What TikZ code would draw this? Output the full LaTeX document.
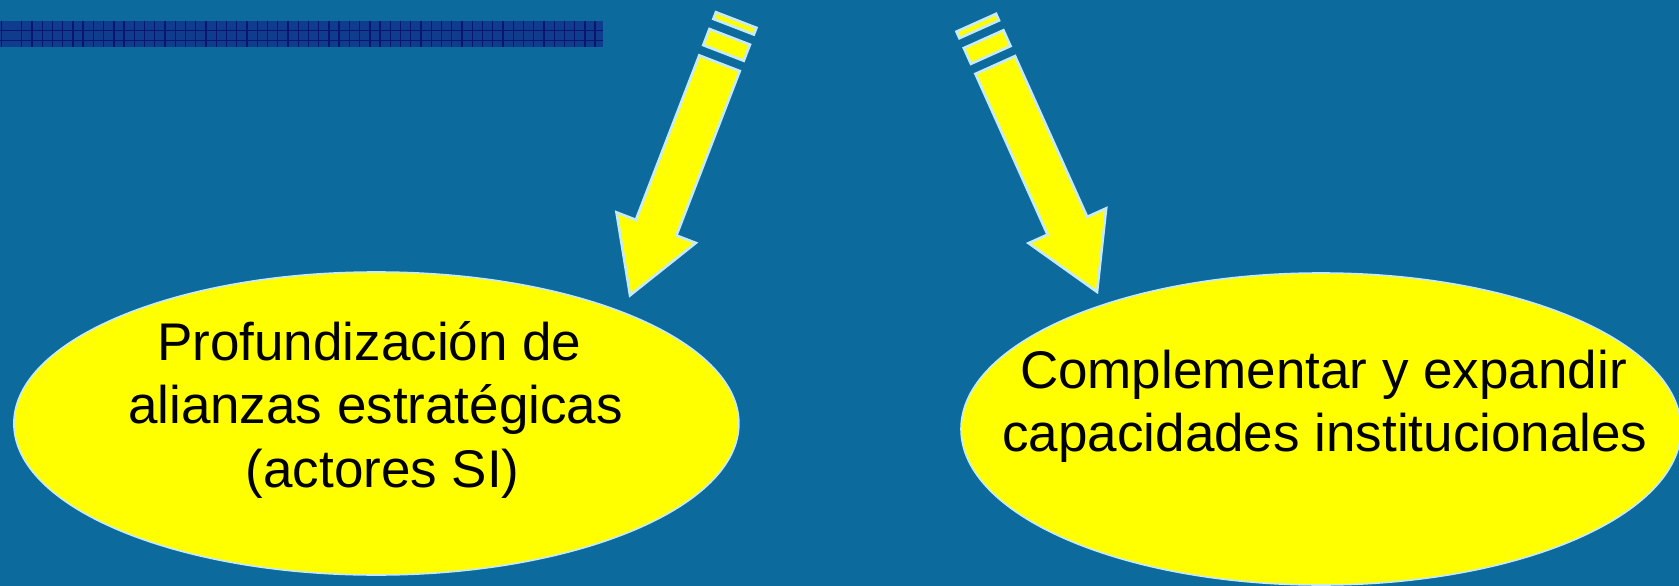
\documentclass[tikz,border=0pt]{standalone}
\usepackage{fontspec}
\setmainfont{Liberation Sans}
\usetikzlibrary{calc,shapes.geometric}
\definecolor{bg}{RGB}{12,106,156}
\definecolor{yel}{RGB}{255,255,0}
\definecolor{edgeblue}{RGB}{196,234,252}
\definecolor{barfill}{RGB}{16,60,142}
\definecolor{barline}{RGB}{8,22,112}
\newcommand{\stripedarrow}[3]{%
  \filldraw[arrowsty] ($(#1)-21.7*(#2)-45*(#3)$) -- ($(#1)+21.7*(#2)-45*(#3)$) -- ($(#1)+21.7*(#2)-37.8*(#3)$) -- ($(#1)-21.7*(#2)-37.8*(#3)$) -- cycle;
  \filldraw[arrowsty] ($(#1)-21.7*(#2)-27*(#3)$) -- ($(#1)+21.7*(#2)-27*(#3)$) -- ($(#1)+21.7*(#2)-9.7*(#3)$) -- ($(#1)-21.7*(#2)-9.7*(#3)$) -- cycle;
  \filldraw[arrowsty] ($(#1)-21.7*(#2)+1.3*(#3)$) -- ($(#1)+21.7*(#2)+1.3*(#3)$) -- ($(#1)+21.7*(#2)+177.5*(#3)$) -- ($(#1)+42.5*(#2)+177.5*(#3)$) -- ($(#1)+250*(#3)$) -- ($(#1)-42.5*(#2)+177.5*(#3)$) -- ($(#1)-21.7*(#2)+177.5*(#3)$) -- cycle;
}
\begin{document}
\begin{tikzpicture}[x=1pt,y=-1pt,
  arrowsty/.style={fill=yel, draw=edgeblue, line width=2.6pt, line join=miter},
  bubble/.style={ellipse, fill=yel, draw=edgeblue, line width=1.6pt, inner sep=0pt},
  txt/.style={font=\fontsize{53}{63}\selectfont, text=black, inner sep=0pt, anchor=base},
  gridline/.style={draw=barline, line width=1.3pt}]
\fill[bg] (0,0) rectangle (1679,586);
\useasboundingbox (0,0) rectangle (1679,586);
% striped bar
\fill[barfill] (0,21) rectangle (603,46.7);
\draw[gridline] (1.7,21) -- (1.7,46.7);
\foreach \i in {0,...,56} \draw[gridline] ({21.7+10.24*\i},21) -- ({21.7+10.24*\i},46.7);
\draw[gridline] (0,30.5) -- (603,30.5);
\draw[gridline] (0,40.7) -- (603,40.7);
% arrows
\coordinate (lo) at (720,62);
\coordinate (lp) at (0.9332,0.3598);
\coordinate (lu) at (-0.3598,0.9332);
\coordinate (ro) at (994.7,63.8);
\coordinate (rp) at (0.9124,-0.4094);
\coordinate (ru) at (0.4094,0.9124);
\stripedarrow{lo}{lp}{lu}
\stripedarrow{ro}{rp}{ru}
% ellipses
\node[bubble, minimum width=725pt, minimum height=303pt] (leftell) at (376.4,423.5) {};
\node[bubble, minimum width=720pt, minimum height=312pt] (rightell) at (1321,429) {};
% texts
\node[txt] (l1) at (369.4,360) {Profundización de};
\node[txt] (l2) at (375.5,423.3) {alianzas estratégicas};
\node[txt] (l3) at (382.7,487) {(actores SI)};
\node[txt] (r1) at (1323.5,388.3) {Complementar y expandir};
\node[txt] (r2) at (1325,451.7) {capacidades institucionales};
\end{tikzpicture}
\end{document}
